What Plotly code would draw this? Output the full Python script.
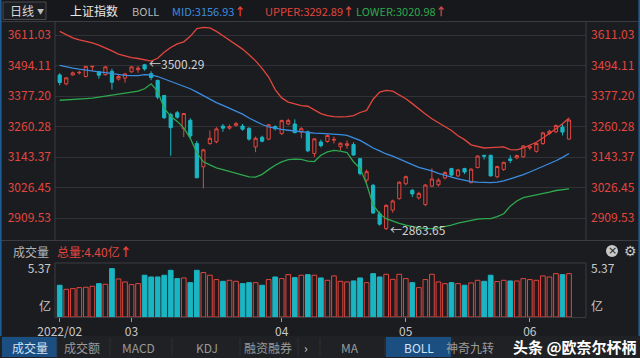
import plotly.graph_objects as go

# ---------------- data ----------------
dates = (
    ["2022-02-%02d" % d for d in [14, 15, 16, 17, 18, 21, 22, 23, 24, 25, 28]]
    + ["2022-03-%02d" % d for d in [1, 2, 3, 4, 7, 8, 9, 10, 11, 14, 15, 16, 17, 18, 21, 22, 23, 24, 25, 28, 29, 30, 31]]
    + ["2022-04-%02d" % d for d in [1, 6, 7, 8, 11, 12, 13, 14, 15, 18, 19, 20, 21, 22, 25, 26, 27, 28, 29]]
    + ["2022-05-%02d" % d for d in [5, 6, 9, 10, 11, 12, 13, 16, 17, 18, 19, 20, 23, 24, 25, 26, 27, 30, 31]]
    + ["2022-06-%02d" % d for d in [1, 2, 6, 7, 8, 9, 10]]
)

open_ = [3458, 3424, 3458, 3466, 3452, 3489, 3470, 3459, 3472, 3442, 3446,
         3470, 3478, 3497, 3463, 3437, 3379, 3306, 3313, 3252, 3284, 3195, 3106,
         3195, 3202, 3262, 3254, 3265, 3262, 3253, 3182, 3219, 3212, 3260,
         3233, 3270, 3270, 3239, 3240, 3157, 3201, 3203, 3208, 3183, 3188, 3191,
         3137, 3055, 3035, 2926, 2869, 2940, 2984,
         3041, 3016, 2987, 2961, 3032, 3037, 3063, 3099, 3071, 3099, 3045, 3103,
         3150, 3150, 3068, 3096, 3136, 3140, 3144,
         3178, 3165, 3195, 3234, 3240, 3258, 3212]
high = [3465, 3449, 3471, 3474, 3492, 3492, 3474, 3491, 3482, 3460, 3465,
        3491, 3492, 3500.29, 3472, 3440, 3381, 3313, 3320, 3312, 3292, 3205, 3175,
        3245, 3258, 3270, 3268, 3278, 3270, 3258, 3222, 3225, 3270, 3265,
        3287, 3290, 3288, 3258, 3245, 3216, 3210, 3230, 3222, 3200, 3207, 3200,
        3140, 3095, 3040, 2935, 2962, 2980, 3050,
        3072, 3020, 3010, 3040, 3100, 3062, 3088, 3102, 3098, 3102, 3100, 3150,
        3151, 3152, 3110, 3125, 3150, 3152, 3188,
        3190, 3197, 3240, 3248, 3268, 3270, 3290]
low = [3418, 3418, 3455, 3460, 3448, 3474, 3444, 3455, 3402, 3436, 3428,
       3466, 3466, 3474, 3438, 3365, 3289, 3148, 3290, 3220, 3214, 3062, 3023,
       3190, 3196, 3240, 3248, 3260, 3244, 3206, 3162, 3200, 3208, 3245,
       3228, 3265, 3234, 3215, 3162, 3143, 3180, 3198, 3195, 3169, 3175, 3148,
       3073, 3045, 2925, 2880, 2863.65, 2930, 2980,
       3035, 2990, 2980, 2955, 3028, 3030, 3058, 3068, 3066, 3078, 3043, 3100,
       3134, 3069, 3062, 3090, 3120, 3135, 3140,
       3170, 3160, 3190, 3228, 3235, 3226, 3210]
close = [3429, 3447, 3466, 3468, 3491, 3491, 3457, 3489, 3430, 3452, 3462,
         3489, 3484, 3481, 3448, 3373, 3294, 3256, 3296, 3310, 3224, 3064, 3171,
         3215, 3251, 3254, 3260, 3271, 3250, 3212, 3215, 3204, 3267, 3252,
         3283, 3283, 3237, 3252, 3167, 3213, 3187, 3226, 3211, 3196, 3194, 3151,
         3080, 3087, 2929, 2886, 2958, 2975, 3047,
         3068, 3002, 3004, 3036, 3059, 3055, 3084, 3074, 3094, 3086, 3097, 3147,
         3146.9, 3071, 3107, 3123, 3130, 3149, 3186,
         3182, 3195, 3236, 3242, 3264, 3239, 3285]

boll_upper = [3625, 3612, 3600, 3592, 3586, 3581, 3572, 3562, 3550, 3538, 3530,
              3524, 3521, 3516, 3511, 3522, 3545, 3563, 3577, 3585, 3606, 3636, 3640,
              3638, 3625, 3608, 3590, 3575, 3557, 3535, 3512, 3483, 3450, 3402,
              3370, 3354, 3347, 3340, 3338, 3325, 3310, 3302, 3298, 3297, 3298, 3302,
              3314, 3322, 3365, 3392, 3399, 3396, 3383,
              3367, 3348, 3327, 3308, 3290, 3276, 3260, 3245, 3225, 3210, 3190, 3184,
              3178, 3179, 3181, 3182, 3172, 3171, 3178,
              3188, 3200, 3216, 3233, 3252, 3271, 3292.89]
boll_mid = [3495, 3489, 3484, 3480, 3476, 3473, 3470, 3467, 3463, 3459, 3456,
            3455, 3455, 3459, 3458, 3452, 3443, 3434, 3425, 3416, 3405, 3392, 3378,
            3366, 3352, 3341, 3331, 3320, 3308, 3293, 3280, 3268, 3259, 3253,
            3249, 3246, 3243, 3240, 3237, 3235, 3234, 3233, 3231, 3229, 3226, 3218,
            3207, 3193, 3178, 3167, 3155, 3147, 3135,
            3124, 3114, 3104, 3098, 3090, 3081, 3073, 3066, 3060, 3055, 3049, 3047,
            3046, 3045, 3047, 3052, 3060, 3067, 3076,
            3086, 3096, 3106, 3116, 3129, 3142, 3156.93]
boll_lower = [3361, 3362, 3363, 3365, 3367, 3369, 3372, 3377, 3381, 3385, 3388,
              3392, 3396, 3405, 3424, 3395, 3330, 3300, 3280, 3255, 3215, 3160, 3125,
              3113, 3102, 3095, 3088, 3080, 3073, 3067, 3066, 3077, 3095, 3112,
              3125, 3133, 3135, 3134, 3128, 3126, 3150, 3163, 3169, 3166, 3160, 3125,
              3100, 3040, 2960, 2925, 2907, 2897, 2889,
              2882, 2876, 2872, 2869, 2869, 2872, 2876, 2882, 2890, 2895, 2900, 2905,
              2907, 2907, 2915, 2926, 2955, 2975, 2988,
              2993, 2997, 3003, 3009, 3015, 3019, 3020.98]

volume = [3.52, 3.07, 3.15, 3.26, 3.30, 3.41, 3.70, 3.63, 5.37, 4.22, 3.89,
          3.59, 3.70, 4.63, 4.44, 4.44, 4.63, 5.18, 4.26, 4.33, 3.81, 5.18, 4.93,
          4.63, 4.15, 3.96, 4.07, 3.96, 3.70, 3.81, 3.81, 3.52, 4.15, 4.44,
          4.26, 4.70, 4.37, 4.63, 4.70, 4.63, 4.33, 4.07, 4.56, 3.96, 3.89, 4.00,
          4.33, 3.81, 4.81, 4.44, 4.74, 4.18, 4.74,
          4.26, 3.81, 3.26, 4.15, 4.74, 3.89, 3.70, 3.81, 3.70, 3.52, 3.78, 4.07,
          3.96, 4.63, 3.93, 4.07, 4.00, 4.00, 4.26,
          4.15, 4.07, 4.56, 4.44, 4.81, 4.70, 4.81]

price_ticks = [3611.03, 3494.11, 3377.20, 3260.28, 3143.37, 3026.45, 2909.53]
price_tick_text = ["3611.03", "3494.11", "3377.20", "3260.28", "3143.37", "3026.45", "2909.53"]
vol_ticks = [1.1, 5.37]
vol_tick_text = ["亿", "5.37"]
month_tick_dates = ["2022-02-14", "2022-03-01", "2022-04-01", "2022-05-05", "2022-06-01"]
month_tick_text = ["2022/02", "03", "04", "05", "06"]

# ---------------- style ----------------
W, H = 640, 358
BG = "#1b1c20"
RED = "#e2463e"
CYAN = "#1ab5c3"
BLUE = "#3b8de0"
GREEN = "#2ea84e"
GRID = "#303237"
BORDER = "#3a3c42"
LABEL = "#c9c9c9"
FONT = "Noto Sans CJK SC"

xi = list(range(len(dates)))
month_ticks = [dates.index(d) for d in month_tick_dates]
up = [c >= o for o, c in zip(open_, close)]


def px(x):
    return x / W


def py(y):
    return 1 - y / H


fig = go.Figure()

fig.add_trace(go.Candlestick(
    x=xi, open=open_, high=high, low=low, close=close,
    increasing=dict(line=dict(color=RED, width=1), fillcolor=BG),
    decreasing=dict(line=dict(color=CYAN, width=1), fillcolor=CYAN),
    whiskerwidth=0, xaxis="x", yaxis="y", showlegend=False, hoverinfo="skip"))

for vals, col in [(boll_upper, RED), (boll_mid, BLUE), (boll_lower, GREEN)]:
    fig.add_trace(go.Scatter(x=xi, y=vals, mode="lines", line=dict(color=col, width=1.3),
                             xaxis="x", yaxis="y", showlegend=False, hoverinfo="skip"))

# invisible trace to carry the right-hand price axis
fig.add_trace(go.Scatter(x=xi, y=close, mode="lines", line=dict(width=0), opacity=0,
                         xaxis="x", yaxis="y3", showlegend=False, hoverinfo="skip"))

fig.add_trace(go.Bar(
    x=xi, y=volume, width=0.72,
    marker=dict(color=[BG if u else CYAN for u in up],
                line=dict(color=[RED if u else CYAN for u in up], width=1)),
    xaxis="x2", yaxis="y2", showlegend=False, hoverinfo="skip"))
fig.add_trace(go.Scatter(x=xi, y=volume, mode="lines", line=dict(width=0), opacity=0,
                         xaxis="x2", yaxis="y4", showlegend=False, hoverinfo="skip"))

XDOM = [px(55), px(586)]
XR = [-0.72, 80.6]
PR = [2825.3, 3660.9]
VR = [0, 5.99]

fig.update_layout(
    template="none",
    width=W, height=H, margin=dict(l=0, r=0, t=0, b=0, pad=0), autosize=False,
    paper_bgcolor=BG, plot_bgcolor=BG,
    font=dict(family=FONT, size=12, color=LABEL),
    xaxis=dict(domain=XDOM, range=XR, anchor="y", showticklabels=False, showgrid=False,
               zeroline=False, rangeslider=dict(visible=False), automargin=False, showline=False),
    yaxis=dict(domain=[py(240), py(22)], range=PR, tickvals=price_ticks, ticktext=price_tick_text,
               tickfont=dict(color=RED, size=12), gridcolor=GRID, gridwidth=1, zeroline=False,
               showline=False, ticks="", ticklabelstandoff=3, automargin=False),
    yaxis3=dict(overlaying="y", side="right", range=PR, tickvals=price_ticks, ticktext=price_tick_text,
                tickfont=dict(color=RED, size=12), showgrid=False, zeroline=False, ticks="",
                ticklabelstandoff=4, anchor="x", automargin=False, showline=False),
    xaxis2=dict(domain=XDOM, range=XR, anchor="y2", tickvals=month_ticks, ticktext=month_tick_text,
                ticks="outside", ticklen=4, tickcolor="#9a9a9a", tickfont=dict(color=LABEL, size=12),
                showgrid=False, zeroline=False, showline=True, linecolor=BORDER, automargin=False),
    yaxis2=dict(domain=[py(317), py(263)], range=VR, tickvals=vol_ticks, ticktext=vol_tick_text,
                tickfont=dict(color=LABEL, size=12), showgrid=False, zeroline=False, ticks="",
                ticklabelstandoff=3, automargin=False, showline=False),
    yaxis4=dict(overlaying="y2", side="right", range=VR, tickvals=vol_ticks, ticktext=vol_tick_text,
                tickfont=dict(color=LABEL, size=12), showgrid=False, zeroline=False, ticks="",
                ticklabelstandoff=4, anchor="x2", automargin=False, showline=False),
)

shapes = []


def pline(x0, y0, x1, y1, color=BORDER, w=1):
    shapes.append(dict(type="line", xref="paper", yref="paper", x0=px(x0), y0=py(y0),
                       x1=px(x1), y1=py(y1), line=dict(color=color, width=w)))


def prect(x0, y0, x1, y1, fill, color=None, w=0, layer="below"):
    shapes.append(dict(type="rect", xref="paper", yref="paper", x0=px(x0), y0=py(y0),
                       x1=px(x1), y1=py(y1), fillcolor=fill,
                       line=dict(color=color or fill, width=w), layer=layer))


# header
prect(0, 0, 640, 21, "#17181b")
prect(3, 2, 46, 19.5, "#1d1e22", "#4a4b50", 1)
pline(0, 21.5, 640, 21.5, BORDER)
# panel borders
pline(55, 22, 55, 240)
pline(586, 22, 586, 240)
pline(0, 240.5, 640, 240.5, BORDER)
pline(55, 263, 586, 263)
pline(55, 263, 55, 317)
pline(586, 263, 586, 317)
# outer frame
pline(0.8, 0, 0.8, 336, "#1e5c96", 1.6)
pline(639.2, 0, 639.2, 336, "#1e5c96", 1.6)
# bottom tab bar
prect(0, 336, 640, 358, "#202125")
for sx in [57, 110, 172, 240, 298, 320, 385, 452]:
    pline(sx, 338, sx, 356, "#2f3035")
prect(2, 337, 57, 357, "#1b4f82")
prect(386, 337, 451, 357, "#1b4f82")
# close-button circle
shapes.append(dict(type="circle", xref="paper", yref="paper", x0=px(606), y0=py(257), x1=px(618),
                   y1=py(245), fillcolor="#c9c9c9", line=dict(width=0)))

fig.update_layout(shapes=shapes)

ann = []


def ptext(x, y, text, color=LABEL, size=12, xanchor="left", family=FONT):
    ann.append(dict(xref="paper", yref="paper", x=px(x), y=py(y), text=text, showarrow=False,
                    xanchor=xanchor, yanchor="middle", font=dict(color=color, size=size, family=family)))


ARROW = "<span style='color:%s'><b>↑</b></span>" % RED
ptext(8, 10.5, "日线", "#d8d8d8", 12)
ptext(35, 10.5, "▼", "#bdbdbd", 7)
ptext(68, 10.5, "上证指数", "#e8e8e8", 12)
ptext(130, 10.5, "BOLL", "#b8b8b8", 11)
ptext(170, 10.5, "MID:3156.93" + ARROW, BLUE, 11)
ptext(263, 10.5, "UPPER:3292.89" + ARROW, RED, 11)
ptext(354, 10.5, "LOWER:3020.98" + ARROW, GREEN, 11)

ptext(11, 251, "成交量", "#b4b4b4", 12)
ptext(55, 251, "总量:4.40亿" + ARROW, RED, 12)
ptext(612, 250.5, "×", "#1b1c20", 11, "center", "DejaVu Sans")
ptext(630, 250.5, "⚙", "#c9c9c9", 14, "center", "DejaVu Sans")

tabs = [(30, "成交量", "#cfe3f7"), (82, "成交额", "#9a9a9a"), (138, "MACD", "#9a9a9a"),
        (207, "KDJ", "#9a9a9a"), (268, "融资融券", "#9a9a9a"), (306, "›", "#cfcfcf"),
        (350, "MA", "#9a9a9a"), (419, "BOLL", "#cfe3f7"), (470, "神奇九转", "#9a9a9a")]
for cx, t, c in tabs:
    ptext(cx, 347, t, c, 12, "center")

ptext(575, 346, "<b>头条 @欧奈尔杯柄</b>", "#ffffff", 15, "center")

# extreme markers
for i, val in [(13, high[13]), (50, low[50])]:
    ann.append(dict(xref="x", yref="y", x=i, y=val, text="←%.2f" % val, showarrow=False,
                    xanchor="left", yanchor="middle", xshift=2,
                    font=dict(color="#d0d0d0", size=12, family=FONT)))

fig.update_layout(annotations=ann)
fig.write_html("out.html",
               config={"displayModeBar": False, "staticPlot": True},
               post_script="document.body.style.margin='0px';"
                           "document.body.style.background='%s';" % BG)
